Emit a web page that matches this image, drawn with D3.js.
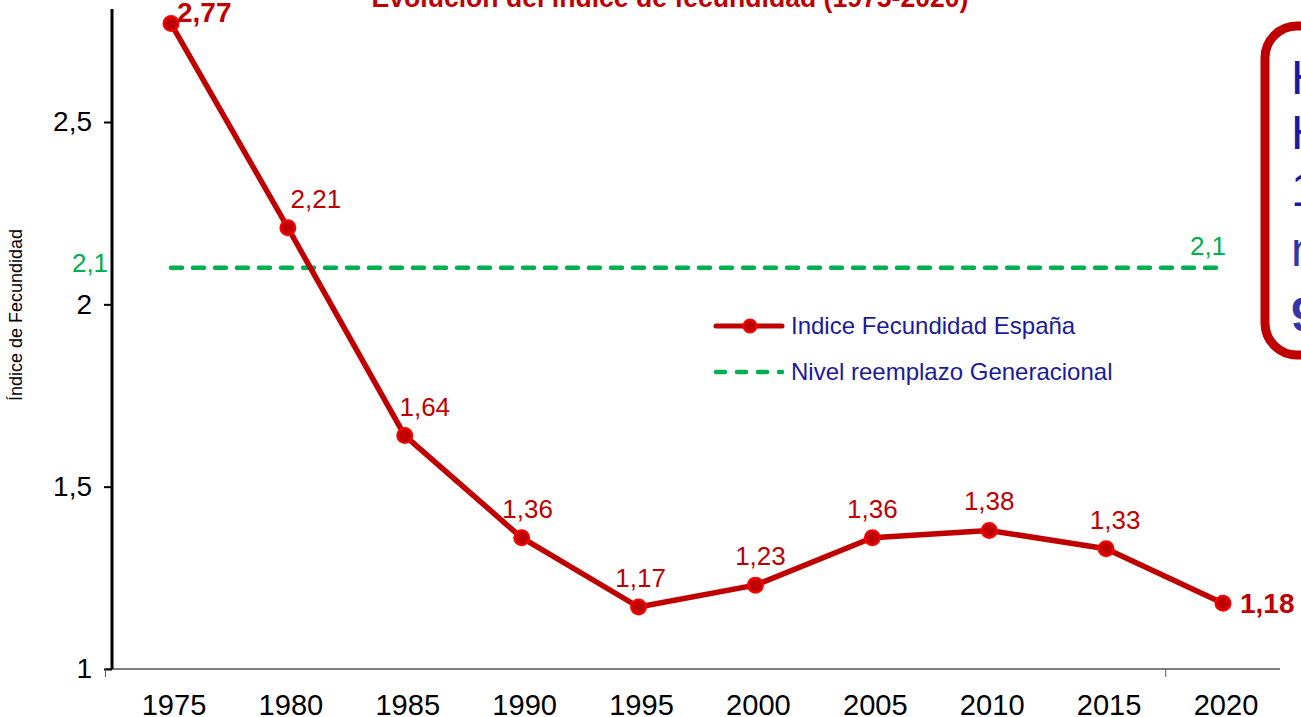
<!DOCTYPE html>
<html><head><meta charset="utf-8">
<script src="https://cdn.jsdelivr.net/npm/d3@7"></script>
<style>
body{margin:0;background:#fff;overflow:hidden}
text{font-family:"Liberation Sans",Arial,sans-serif}
</style></head>
<body><svg id="c" width="1301" height="717"></svg>
<script>
const years = [1975,1980,1985,1990,1995,2000,2005,2010,2015,2020];
const fecundidad = [2.77,2.21,1.64,1.36,1.17,1.23,1.36,1.38,1.33,1.18];
const reemplazo = [2.1,2.1,2.1,2.1,2.1,2.1,2.1,2.1,2.1,2.1];
const yTicks = [1,1.5,2,2.5];
const seriesNames = ["Indice Fecundidad España","Nivel reemplazo Generacional"];
const title = "Evolución del índice de fecundidad (1975-2020)";
const yTitle = "Índice de Fecundidad";
const boxLines = ["Hoy","Hay","1,18","nacen","9"];

const fmt = v => String(v).replace(".", ",");
const svg = d3.select("#c");
const RED="#c00000", GREEN="#00b050", BLUE="#1a1a9a";
const FONT = "Liberation Sans, Arial, sans-serif";

const x = d3.scaleLinear().domain([1975,2020]).range([171,1223]);
const y = d3.scaleLinear().domain([1,2.5]).range([669,122]);

// title
svg.append("text").attr("x",670).attr("y",7).attr("text-anchor","middle")
  .attr("font-size",28).attr("font-weight","bold").attr("fill",RED)
  .attr("transform","translate(670,0) scale(0.95,1) translate(-670,0)")
  .text(title);

// y axis
const yAx = svg.append("g").attr("transform","translate(112,0)")
  .call(d3.axisLeft(y).tickValues(yTicks).tickSize(8).tickPadding(12).tickFormat(fmt));
yAx.select(".domain").remove();
yAx.selectAll(".tick line").attr("stroke","#000").attr("stroke-width",2);
yAx.selectAll(".tick text").attr("font-size",28).attr("fill","#000").style("font-family",FONT);
svg.append("line").attr("x1",112).attr("x2",112).attr("y1",y(2.81)).attr("y2",y(1))
  .attr("stroke","#000").attr("stroke-width",3);

// x axis
svg.append("line").attr("x1",105).attr("x2",1280).attr("y1",669).attr("y2",669)
  .attr("stroke","#000").attr("stroke-width",1.2);
[x(1972.2), x(2017.55)].forEach(px=>{
  svg.append("line").attr("x1",px).attr("x2",px).attr("y1",669).attr("y2",677)
    .attr("stroke","#555").attr("stroke-width",1);
});
svg.append("g").selectAll("text").data(years).join("text")
  .attr("x",d=>x(d)+3).attr("y",715).attr("text-anchor","middle")
  .attr("font-size",30).attr("fill","#000")
  .attr("transform",d=>`translate(${x(d)+3},0) scale(0.97,1) translate(${-(x(d)+3)},0)`)
  .text(d=>d);

// y title
svg.append("text").attr("transform","translate(22,315) rotate(-90)")
  .attr("text-anchor","middle").attr("font-size",18).attr("fill","#000").text(yTitle);

// green line
const lineG = d3.line().x((d,i)=>x(years[i])).y(d=>y(d));
svg.append("path").attr("d",lineG(reemplazo)).attr("fill","none")
  .attr("stroke",GREEN).attr("stroke-width",4.5).attr("stroke-dasharray","11,11")
  .attr("stroke-linecap","round");
svg.append("text").attr("x",90).attr("y",272).attr("text-anchor","middle")
  .attr("font-size",26).attr("fill",GREEN).text(fmt(reemplazo[0]));
svg.append("text").attr("x",1208).attr("y",255).attr("text-anchor","middle")
  .attr("font-size",26).attr("fill",GREEN).text(fmt(reemplazo[reemplazo.length-1]));

// red line
svg.append("path").attr("d",lineG(fecundidad)).attr("fill","none")
  .attr("stroke",RED).attr("stroke-width",5.5).attr("stroke-linejoin","round");
svg.append("g").selectAll("circle").data(fecundidad).join("circle")
  .attr("cx",(d,i)=>x(years[i])).attr("cy",d=>y(d)).attr("r",7.5)
  .attr("fill",RED).attr("stroke","#ff0000").attr("stroke-width",2);

// data labels
const last = fecundidad.length-1;
const dxs = [6,28,20,6,2,5,0,0,9,17];
svg.append("g").selectAll("text").data(fecundidad).join("text")
  .attr("x",(d,i)=> x(years[i])+dxs[i])
  .attr("y",(d,i)=> i===0 ? y(d)-2 : i===last ? y(d)+10 : y(d)-20)
  .attr("text-anchor",(d,i)=> (i===0||i===last) ? "start" : "middle")
  .attr("font-size",(d,i)=> (i===0||i===last) ? 28 : 26)
  .attr("font-weight",(d,i)=> (i===0||i===last) ? "bold" : "normal")
  .attr("fill",RED).text(d=>fmt(d));

// legend
const lg = svg.append("g");
lg.append("line").attr("x1",716).attr("x2",782).attr("y1",326).attr("y2",326)
  .attr("stroke",RED).attr("stroke-width",5).attr("stroke-linecap","round");
lg.append("circle").attr("cx",750).attr("cy",326).attr("r",6.5).attr("fill",RED).attr("stroke","#ff0000").attr("stroke-width",2);
lg.append("text").attr("x",791).attr("y",334).attr("font-size",24).attr("fill",BLUE).text(seriesNames[0]);
lg.append("line").attr("x1",716).attr("x2",782).attr("y1",372).attr("y2",372)
  .attr("stroke",GREEN).attr("stroke-width",4.5).attr("stroke-dasharray","9,12").attr("stroke-linecap","round");
lg.append("text").attr("x",791).attr("y",380).attr("font-size",24).attr("fill",BLUE).text(seriesNames[1]);

// right box
svg.append("rect").attr("x",1265).attr("y",26).attr("width",120).attr("height",329).attr("rx",32)
  .attr("fill","#fff").attr("stroke",RED).attr("stroke-width",9);
const by = [94,149,206,266,331];
svg.append("g").selectAll("text").data(boxLines).join("text")
  .attr("x",1291).attr("y",(d,i)=>by[i]).attr("font-size",48)
  .attr("font-weight",(d,i)=>i===4?"bold":"normal")
  .attr("fill",(d,i)=>i>=3?"#3535a5":BLUE).text(d=>d);
</script></body></html>
